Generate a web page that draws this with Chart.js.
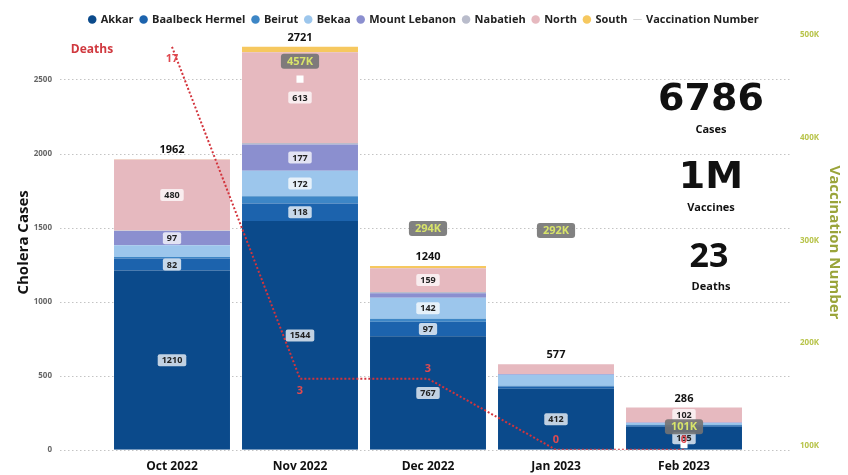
<!DOCTYPE html>
<html>
<head>
<meta charset="utf-8">
<script src="https://cdn.jsdelivr.net/npm/chart.js@4.4.0/dist/chart.umd.min.js"></script>
<style>
  html, body { margin: 0; padding: 0; background: #fff; }
  #wrap { width: 848px; height: 475px; }
</style>
</head>
<body>
<div id="wrap"><canvas id="chart"></canvas></div>
<script>
// Données
const categories = ['Oct 2022', 'Nov 2022', 'Dec 2022', 'Jan 2023', 'Feb 2023'];
const akkar        = [1210, 1544, 767, 412, 155];
const baalbeck     = [82, 118, 97, 15, 10];
const beirut       = [10, 50, 20, 5, 4];
const bekaa        = [78, 172, 142, 75, 12];
const mountLebanon = [97, 177, 30, 5, 3];
const nabatieh     = [3, 10, 10, 0, 0];
const north        = [480, 613, 159, 65, 102];
const south        = [2, 37, 15, 0, 0];
const deaths       = [17, 3, 3, 0, 0];
const vaccinations = [null, 457000, 294000, 292000, 101000];
const caseTicks    = [0, 500, 1000, 1500, 2000, 2500];
const vacTicks     = [100000, 200000, 300000, 400000, 500000];

const regions = [
  { label: 'Akkar', data: akkar, color: '#0b4a8b' },
  { label: 'Baalbeck Hermel', data: baalbeck, color: '#1c63ad' },
  { label: 'Beirut', data: beirut, color: '#3d86c6' },
  { label: 'Bekaa', data: bekaa, color: '#9cc6ec' },
  { label: 'Mount Lebanon', data: mountLebanon, color: '#8b8fcf' },
  { label: 'Nabatieh', data: nabatieh, color: '#b9bccb' },
  { label: 'North', data: north, color: '#e6b9bf' },
  { label: 'South', data: south, color: '#f6c85f' }
];

const totals = categories.map((c, i) => regions.reduce((s, r) => s + r.data[i], 0));

Chart.defaults.font.family = "'Open Sans', 'Noto Sans', sans-serif";

function roundBox(ctx, x, y, w, h, r) {
  ctx.beginPath();
  ctx.moveTo(x + r, y);
  ctx.arcTo(x + w, y, x + w, y + h, r);
  ctx.arcTo(x + w, y + h, x, y + h, r);
  ctx.arcTo(x, y + h, x, y, r);
  ctx.arcTo(x, y, x + w, y, r);
  ctx.closePath();
  ctx.fill();
}

// Grille pointillée + étiquettes dessinées à la main
const overlay = {
  id: 'overlay',
  beforeDatasetsDraw(chart) {
    const { ctx, chartArea, scales } = chart;
    ctx.save();
    ctx.strokeStyle = '#c4c4c4';
    ctx.lineWidth = 1;
    ctx.setLineDash([1.5, 2.5]);
    scales.y.ticks.forEach(t => {
      const py = Math.round(scales.y.getPixelForValue(t.value)) + 0.5;
      ctx.beginPath();
      ctx.moveTo(chartArea.left - 48, py);
      ctx.lineTo(chartArea.right + 42, py);
      ctx.stroke();
    });
    ctx.restore();
  },
  afterDatasetsDraw(chart) {
    const { ctx, chartArea, scales } = chart;
    ctx.save();
    ctx.textAlign = 'center';
    ctx.textBaseline = 'middle';

    // valeurs dans les segments
    ctx.font = "bold 9px 'Open Sans', sans-serif";
    regions.forEach((r, di) => {
      const meta = chart.getDatasetMeta(di);
      meta.data.forEach((el, i) => {
        const v = r.data[i];
        if (v < 80) return;
        const cy = (el.y + el.base) / 2;
        const txt = String(v);
        const w = ctx.measureText(txt).width + 8;
        ctx.fillStyle = 'rgba(255,255,255,0.75)';
        roundBox(ctx, el.x - w / 2, cy - 6, w, 12, 2);
        ctx.fillStyle = '#222';
        ctx.fillText(txt, el.x, cy + 0.5);
      });
    });

    // totaux
    ctx.font = "bold 11px 'Open Sans', sans-serif";
    ctx.fillStyle = '#111';
    const m0 = chart.getDatasetMeta(0);
    totals.forEach((t, i) => {
      ctx.fillText(String(t), m0.data[i].x, scales.y.getPixelForValue(t) - 9);
    });

    // décès
    const dMeta = chart.getDatasetMeta(regions.length);
    const above = [false, false, true, true, true];
    ctx.fillStyle = '#e04a50';
    dMeta.data.forEach((p, i) => {
      ctx.fillText(String(deaths[i]), p.x, p.y + (above[i] ? -10 : 12));
    });
    ctx.font = "bold 12px 'Open Sans', sans-serif";
    ctx.fillStyle = '#d0393f';
    ctx.fillText('Deaths', dMeta.data[0].x - 80, dMeta.data[0].y + 3);

    // vaccinations
    const vMeta = chart.getDatasetMeta(regions.length + 1);
    ctx.font = "bold 11px 'Open Sans', sans-serif";
    vMeta.data.forEach((p, i) => {
      const v = vaccinations[i];
      if (v == null) return;
      const txt = Math.round(v / 1000) + 'K';
      const w = ctx.measureText(txt).width + 12;
      const cy = p.y - 18;
      ctx.fillStyle = 'rgba(115,115,115,0.9)';
      roundBox(ctx, p.x - w / 2, cy - 7.5, w, 15, 3);
      ctx.fillStyle = '#d8e46a';
      ctx.fillText(txt, p.x, cy + 0.5);
    });

    // chiffres clés
    const cx = chartArea.right - 37;
    const top = chartArea.top;
    const sumCases = totals.reduce((a, b) => a + b, 0);
    const sumVac = vaccinations.reduce((a, b) => a + (b || 0), 0);
    const sumDeaths = deaths.reduce((a, b) => a + b, 0);
    ctx.fillStyle = '#111';
    ctx.font = "bold 38px 'DejaVu Sans', sans-serif";
    ctx.fillText(String(sumCases), cx, top + 65);
    ctx.fillText(Math.round(sumVac / 1e6) + 'M', cx, top + 143);
    ctx.font = "bold 34px 'Open Sans', sans-serif";
    ctx.fillText(String(sumDeaths), cx - 2, top + 222);
    ctx.font = "bold 11px 'Open Sans', sans-serif";
    ctx.fillText('Cases', cx, top + 95);
    ctx.fillText('Vaccines', cx, top + 173);
    ctx.fillText('Deaths', cx, top + 252);
    ctx.restore();
  }
};

const datasets = regions.map(r => ({
  type: 'bar',
  label: r.label,
  data: r.data,
  backgroundColor: r.color,
  yAxisID: 'y',
  stack: 'cases',
  order: 2,
  barPercentage: 0.906,
  categoryPercentage: 1
}));

datasets.push({
  type: 'line',
  label: 'Deaths',
  data: deaths,
  yAxisID: 'yDeaths',
  borderColor: '#d3343c',
  borderWidth: 2,
  borderDash: [2, 2],
  pointRadius: 0,
  fill: false,
  order: 1
});

datasets.push({
  type: 'line',
  label: 'Vaccination Number',
  data: vaccinations,
  yAxisID: 'yVac',
  borderColor: '#d5d5d5',
  backgroundColor: '#ffffff',
  showLine: false,
  pointStyle: 'rect',
  pointRadius: 5,
  pointBorderWidth: 0,
  fill: false,
  order: 0
});

new Chart(document.getElementById('chart'), {
  data: { labels: categories, datasets: datasets },
  options: {
    responsive: true,
    maintainAspectRatio: false,
    animation: false,
    layout: { padding: { top: 7, bottom: 0 } },
    plugins: {
      tooltip: { enabled: false },
      legend: {
        position: 'top',
        labels: {
          usePointStyle: true,
          boxWidth: 6,
          boxHeight: 6,
          padding: 7,
          color: '#222',
          font: { size: 11, weight: 'bold' },
          filter: item => item.text !== 'Deaths',
          sort: (a, b) => a.datasetIndex - b.datasetIndex,
          generateLabels(chart) {
            const items = Chart.defaults.plugins.legend.labels.generateLabels(chart);
            items.forEach(it => {
              if (it.text === 'Vaccination Number') {
                it.pointStyle = 'line';
                it.strokeStyle = '#d5d5d5';
                it.lineWidth = 1;
              } else {
                it.pointStyle = 'circle';
              }
            });
            return items;
          }
        }
      }
    },
    scales: {
      x: {
        stacked: true,
        grid: { display: false },
        border: { display: false },
        ticks: { color: '#111', font: { size: 12, weight: 'bold', lineHeight: 1.1 }, padding: 2 }
      },
      y: {
        position: 'left',
        stacked: true,
        min: 0,
        max: 2800,
        grid: { display: false, drawTicks: false },
        border: { display: false },
        afterBuildTicks(scale) { scale.ticks = caseTicks.map(v => ({ value: v })); },
        ticks: { color: '#666', font: { size: 8, weight: 'bold' }, padding: 56, callback: v => String(v) },
        title: { display: true, text: 'Cholera Cases', color: '#111', font: { size: 15, weight: 'bold' }, padding: { top: 15, bottom: 0 } },
        afterFit(scale) { scale.width = 108; scale.paddingTop = 4; scale.paddingBottom = 4; }
      },
      yDeaths: {
        display: false,
        min: 0,
        max: 17.5
      },
      yVac: {
        position: 'right',
        min: 96000,
        max: 500000,
        grid: { display: false, drawTicks: false },
        border: { display: false },
        afterBuildTicks(scale) { scale.ticks = vacTicks.map(v => ({ value: v })); },
        ticks: {
          color: '#b8c44a',
          font: { size: 8, weight: 'bold' },
          padding: 52,
          callback: v => (v / 1000) + 'K'
        },
        title: { display: true, text: 'Vaccination Number', color: '#9aa43a', font: { size: 15, weight: 'bold' }, padding: { top: 5, bottom: 0 } },
        afterFit(scale) { scale.width = 100; scale.paddingTop = 4; scale.paddingBottom = 4; }
      }
    }
  },
  plugins: [overlay]
});
</script>
</body>
</html>
